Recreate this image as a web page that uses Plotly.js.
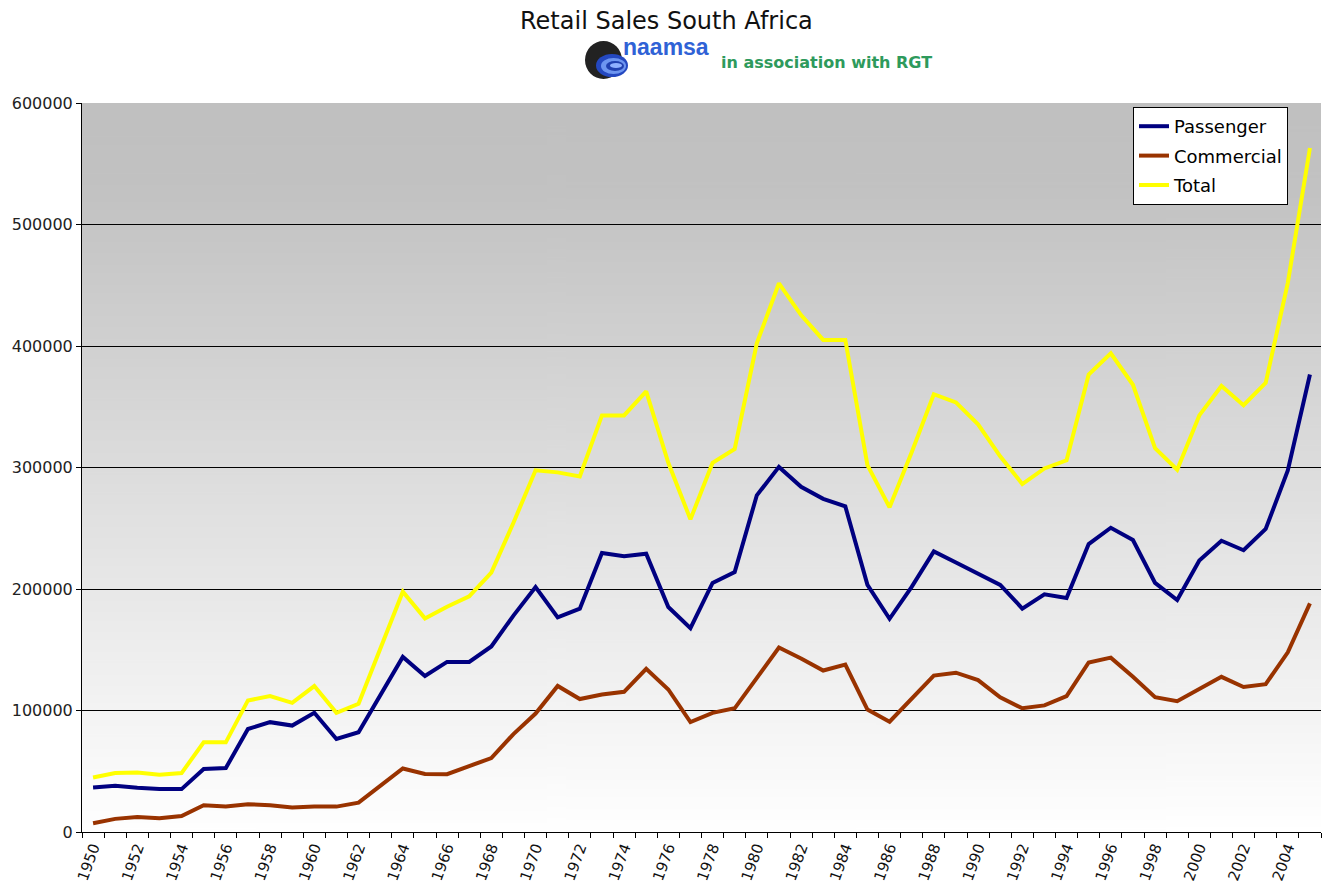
<!DOCTYPE html>
<html>
<head>
<meta charset="utf-8">
<script src="https://cdn.plot.ly/plotly-3.0.1.min.js"></script>
<style>html,body{margin:0;padding:0;background:#fff;}#chart{width:1326px;height:889px;}</style>
</head>
<body>
<div id="chart"></div>
<script>
const years = [];
for (let y = 1950; y <= 2005; y++) years.push(y);

const passenger = [36600,38000,36400,35300,35300,51800,52600,84800,90400,87600,
  98100,76600,82100,112400,144100,128400,140000,140000,152700,178100,
  201600,176700,183800,229600,227000,229000,185200,167700,205000,214000,
  277100,300500,284100,274200,268000,203400,175500,201700,230900,221800,
  212800,203400,183900,195600,192600,237000,250400,240300,205000,190900,
  223500,239700,231900,249400,297500,376500];

const commercial = [7200,10800,12400,11400,13200,22000,20900,22900,22000,20100,
  20900,20900,24200,38000,52300,47700,47600,54300,60800,80600,
  97500,120200,109400,113100,115400,134300,117300,90500,98100,101800,
  127200,151800,142800,132900,137700,100800,90800,109200,128700,131100,
  125000,110900,101800,104200,111900,139500,143500,127700,110900,107600,
  117600,127700,119300,121700,147900,188200];

const total = [44900,48500,49000,47200,48500,73800,73800,108300,111800,106300,
  120100,98100,105500,151000,197800,175800,185400,194000,213500,254500,
  297700,296000,292600,342900,342900,362700,303900,257300,303900,315200,
  402200,451600,425500,405000,405000,302000,267200,312600,360300,353600,
  335500,309200,286400,299200,305900,376500,394000,368100,316000,298200,
  342900,367100,351300,369700,452000,563000];

const seriesNames = ['Passenger','Commercial','Total'];
const seriesColors = ['#000080','#993300','#ffff00'];
const seriesData = [passenger, commercial, total];

const W = 1326, H = 889;
const L = 82, R = 1321, T = 103, B = 832;
function px(x){ return (x - L) / (R - L); }
function py(y){ return (B - y) / (B - T); }

function gradURL(){
  const c = document.createElement('canvas');
  c.width = 4; c.height = 512;
  const g = c.getContext('2d');
  const gr = g.createLinearGradient(0,0,0,512);
  gr.addColorStop(0,'#c0c0c0');
  gr.addColorStop(0.12,'#c2c2c2');
  gr.addColorStop(1,'#ffffff');
  g.fillStyle = gr; g.fillRect(0,0,4,512);
  return c.toDataURL();
}

const traces = seriesData.map((d,i) => ({
  type:'scatter', mode:'lines', x: years, y: d, name: seriesNames[i],
  legendgroup: 'g'+i,
  line:{color: seriesColors[i], width:4}
}));

const font = 'DejaVu Sans, Verdana, sans-serif';

const layout = {
  width: W, height: H,
  margin:{l:L, r:W-R, t:T, b:H-B},
  paper_bgcolor:'#ffffff', plot_bgcolor:'#ffffff',
  showlegend:true,
  legend:{x:px(1133), y:py(107), xanchor:'left', yanchor:'top',
    bgcolor:'#ffffff', bordercolor:'#000000', borderwidth:1,
    font:{family:font, size:18, color:'#000'}, traceorder:'grouped', tracegroupgap:3},
  xaxis:{range:[1949.5,2005.5], tickmode:'linear', tick0:1950, dtick:2,
    ticks:'', tickangle:-70, showgrid:false, zeroline:false,
    showline:true, linecolor:'#000', linewidth:1,
    tickfont:{family:font, size:15, color:'#111'},
    minor:{tickmode:'linear', tick0:1949.5, dtick:1, ticks:'outside', ticklen:5, tickcolor:'#000', showgrid:false}},
  yaxis:{range:[0,600000], tickmode:'linear', tick0:0, dtick:100000, tickformat:'d',
    showgrid:true, gridcolor:'#000', gridwidth:1, zeroline:false,
    showline:true, linecolor:'#000', linewidth:1,
    ticks:'outside', ticklen:5, tickcolor:'#000',
    tickfont:{family:font, size:16, color:'#222'}},
  images:[{source:gradURL(), xref:'paper', yref:'paper', x:0, y:1, sizex:1, sizey:1,
    sizing:'stretch', xanchor:'left', yanchor:'top', layer:'below'}],
  shapes:[
    {type:'circle', xref:'paper', yref:'paper', x0:px(585), x1:px(622), y0:py(79), y1:py(41), fillcolor:'#222', line:{width:0}},
    {type:'circle', xref:'paper', yref:'paper', x0:px(596), x1:px(628), y0:py(77), y1:py(54), fillcolor:'#2448c0', line:{width:0}},
    {type:'circle', xref:'paper', yref:'paper', x0:px(601), x1:px(626), y0:py(74), y1:py(58), fillcolor:'#6d95f0', line:{width:0}},
    {type:'circle', xref:'paper', yref:'paper', x0:px(606), x1:px(624), y0:py(71), y1:py(61), fillcolor:'#2040b0', line:{width:0}},
    {type:'circle', xref:'paper', yref:'paper', x0:px(610), x1:px(622), y0:py(68), y1:py(63), fillcolor:'#8fb0ff', line:{width:0}}
  ],
  annotations:[
    {text:'Retail Sales South Africa', xref:'paper', yref:'paper', x:px(666), y:py(21),
      xanchor:'center', yanchor:'middle', showarrow:false, font:{family:font, size:24, color:'#111'}},
    {text:'<b>naamsa</b>', xref:'paper', yref:'paper', x:px(621), y:py(47),
      xanchor:'left', yanchor:'middle', showarrow:false, font:{family:'Liberation Sans, Arial, sans-serif', size:23, color:'#2f62d6'}},
    {text:'<b>in association with RGT</b>', xref:'paper', yref:'paper', x:px(719), y:py(63),
      xanchor:'left', yanchor:'middle', showarrow:false, font:{family:font, size:16, color:'#2e9a5c'}}
  ]
};

Plotly.newPlot('chart', traces, layout, {displayModeBar:false, staticPlot:true});
</script>
</body>
</html>
